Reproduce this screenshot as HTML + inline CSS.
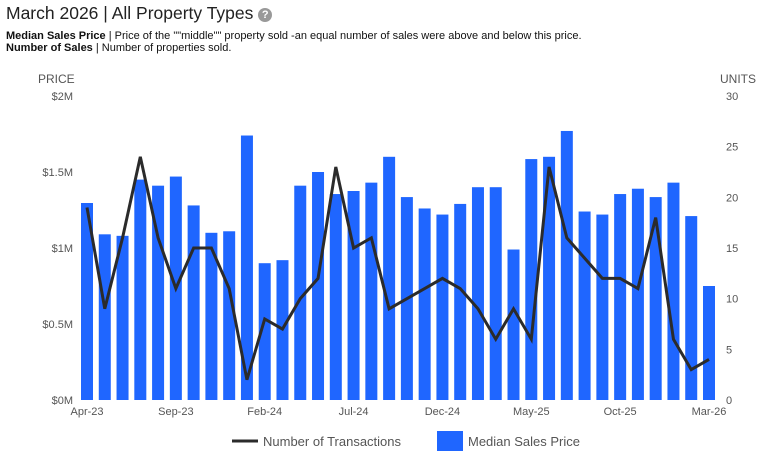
<!DOCTYPE html>
<html><head><meta charset="utf-8"><style>
body{margin:0;background:#fff;font-family:"Liberation Sans",Arial,sans-serif;}
#wrap{position:relative;width:763px;height:460px;overflow:hidden;}
.title{position:absolute;left:6px;top:3px;font-size:17.5px;color:#222;}
.help{display:inline-block;width:14px;height:14px;border-radius:50%;background:#999;color:#fff;font-size:11px;text-align:center;line-height:14px;font-weight:bold;vertical-align:1px;}
.desc{position:absolute;left:6px;top:30px;font-size:11px;color:#111;line-height:12px;}
</style></head><body>
<div id="wrap">
<div class="title">March 2026 | All Property Types <span class="help">?</span></div>
<div class="desc"><b>Median Sales Price</b> | Price of the ""middle"" property sold -an equal number of sales were above and below this price.<br><b>Number of Sales</b> | Number of properties sold.</div>
<svg id="chart" width="763" height="460" style="position:absolute;left:0;top:0"></svg>
</div>
<script>
const months=["Apr-23","May-23","Jun-23","Jul-23","Aug-23","Sep-23","Oct-23","Nov-23","Dec-23","Jan-24","Feb-24","Mar-24","Apr-24","May-24","Jun-24","Jul-24","Aug-24","Sep-24","Oct-24","Nov-24","Dec-24","Jan-25","Feb-25","Mar-25","Apr-25","May-25","Jun-25","Jul-25","Aug-25","Sep-25","Oct-25","Nov-25","Dec-25","Jan-26","Feb-26","Mar-26"];
const medianPrice=[1.296,1.09,1.08,1.45,1.41,1.47,1.28,1.1,1.11,1.74,0.9,0.92,1.41,1.5,1.355,1.375,1.43,1.6,1.335,1.26,1.22,1.29,1.40,1.40,0.99,1.585,1.6,1.77,1.24,1.22,1.355,1.39,1.335,1.43,1.21,0.75];
const transactions=[19,9,16,24,16,11,15,15,11,2,8,7,10,12,23,15,16,9,10,11,12,11,9,6,9,6,23,16,14,12,12,11,18,6,3,4];
const priceTicks=[0,0.5,1,1.5,2];
const priceTickLabels=["$0M","$0.5M","$1M","$1.5M","$2M"];
const unitTicks=[0,5,10,15,20,25,30];

const svg=document.getElementById('chart');
const NS='http://www.w3.org/2000/svg';
const x0=87,x1=709,yB=400,yT=96;
const xPos=i=>x0+(x1-x0)*i/(months.length-1);
const yPrice=v=>yB-(yB-yT)*v/2;
const yUnits=v=>yB-(yB-yT)*v/30;
function mk(tag,attrs,parent){const e=document.createElementNS(NS,tag);for(const k in attrs)e.setAttribute(k,attrs[k]);(parent||svg).appendChild(e);return e;}
function txt(x,y,s,anchor,size,fill){const t=mk('text',{x:x,y:y,'text-anchor':anchor,'font-size':size,fill:fill,'font-family':'Liberation Sans, Arial, sans-serif'});t.textContent=s;return t;}

let t=txt(38,83,'PRICE','start',12,'#555');


t=txt(720,83,'UNITS','start',12,'#555');


priceTicks.forEach((v,i)=>{const e=txt(73,yPrice(v)+4,priceTickLabels[i],'end',11,'#555');

});
unitTicks.forEach(v=>{const e=txt(726,yUnits(v)+4,String(v),'start',11,'#555');

});

medianPrice.forEach((v,i)=>{const r=mk('rect',{x:xPos(i)-6,y:yPrice(v),width:12,height:yB-yPrice(v),fill:'#1f66ff'});

});

const pts=transactions.map((v,i)=>xPos(i)+','+yUnits(v)).join(' ');
const pl=mk('polyline',{points:pts,fill:'none',stroke:'#2b2b2b','stroke-width':3,'stroke-linejoin':'miter'});



months.forEach((m,i)=>{if(i%5===0){const e=txt(xPos(i),415,m,'middle',11,'#555');

}});

const lg1=mk('line',{x1:232,y1:441,x2:258,y2:441,stroke:'#2b2b2b','stroke-width':3});


t=txt(263,446,'Number of Transactions','start',13,'#555');


const lg2=mk('rect',{x:437,y:431,width:26,height:20,fill:'#1f66ff'});


t=txt(468,446,'Median Sales Price','start',13,'#555');


</script>
</body></html>
